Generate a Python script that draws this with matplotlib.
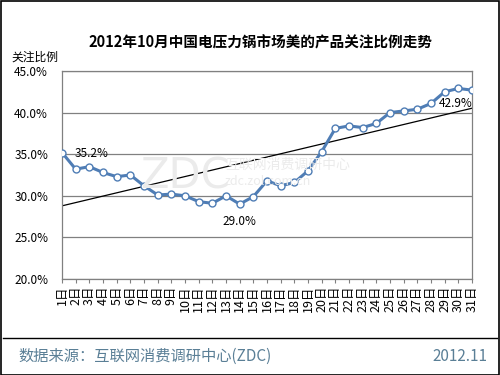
import matplotlib
matplotlib.use("Agg")
import matplotlib.pyplot as plt
import numpy as np
from matplotlib.lines import Line2D
from matplotlib.patches import Rectangle
from matplotlib.ticker import FuncFormatter

plt.rcParams['font.family'] = ['Noto Sans CJK SC', 'DejaVu Sans']

days = [f"{d}日" for d in range(1, 32)]
values = [35.2, 33.2, 33.5, 32.8, 32.3, 32.5, 31.2, 30.1, 30.2, 30.0,
          29.3, 29.1, 30.0, 29.0, 29.9, 31.8, 31.2, 31.6, 33.0, 35.3,
          38.1, 38.4, 38.2, 38.7, 40.0, 40.2, 40.4, 41.1, 42.5, 42.9, 42.7]
labeled = {0: "35.2%", 13: "29.0%", 29: "42.9%"}
yticks = [20, 25, 30, 35, 40, 45]

title = "2012年10月中国电压力锅市场美的产品关注比例走势"
ylabel = "关注比例"
source = "数据来源：互联网消费调研中心(ZDC)"
date = "2012.11"

fig = plt.figure(figsize=(5, 3.75), dpi=100)
ax = fig.add_axes([0.124, 0.256, 0.82, 0.5547])

x = np.arange(len(values))
line_color = "#4F7DB5"

# trend line (linear fit)
coef = np.polyfit(x, values, 1)
ax.plot(x, np.polyval(coef, x), color="black", lw=0.9, zorder=2)

ax.plot(x, values, color=line_color, lw=2.2, marker="o", markersize=5,
        markerfacecolor="white", markeredgecolor=line_color, markeredgewidth=1.0,
        zorder=3)

ax.set_xlim(0, len(values) - 1)
ax.set_ylim(20, 45)
ax.set_yticks(yticks)
ax.yaxis.set_major_formatter(FuncFormatter(lambda v, p: f"{v:.1f}%"))
ax.grid(axis="y", color="#808080", lw=0.9)
ax.set_axisbelow(True)
ax.set_xticks(x)
ax.set_xticklabels(days, rotation=90, fontsize=9, va="top")
ax.tick_params(axis="x", length=3, color="#808080", pad=2)
ax.tick_params(axis="y", length=0, labelsize=8.5, pad=10)
for s in ax.spines.values():
    s.set_color("#808080")
    s.set_linewidth(0.9)

# data labels
ax.annotate(labeled[0], (x[0], values[0]), xytext=(9, -1), textcoords="offset points",
            ha="left", va="center", fontsize=8.5)
ax.annotate(labeled[13], (x[13], values[13]), xytext=(0, -8), textcoords="offset points",
            ha="center", va="top", fontsize=8.5)
ax.annotate(labeled[29], (x[29], values[29]), xytext=(-2, -6), textcoords="offset points",
            ha="center", va="top", fontsize=8.5)

# watermark
fig.text(0.28, 0.53, "ZDC", fontsize=30, color="#ebebeb", zorder=0, ha="left", va="center",
         family="DejaVu Sans")
fig.text(0.45, 0.56, "互联网消费调研中心", fontsize=10, color="#ebebeb", ha="left", va="center")
fig.text(0.45, 0.515, "zdc.zol.com.cn", fontsize=9, color="#ebebeb", ha="left", va="center")

fig.text(0.52, 0.887, title, fontsize=10.5, fontweight="bold", ha="center", va="center")
fig.text(0.07, 0.848, ylabel, fontsize=8.5, ha="center", va="center")

fig.add_artist(Line2D([0.006, 0.994], [0.099, 0.099], color="black", lw=1.0,
                      transform=fig.transFigure))
fig.text(0.036, 0.05, source, fontsize=11, color="#5A7F96", ha="left", va="center")
fig.text(0.974, 0.05, date, fontsize=11, color="#5A7F96", ha="right", va="center")

fig.add_artist(Rectangle((0.001, 0.001), 0.997, 0.996, fill=False, edgecolor="black",
                         lw=1.2, transform=fig.transFigure))

fig.savefig("out.png", dpi=100)
